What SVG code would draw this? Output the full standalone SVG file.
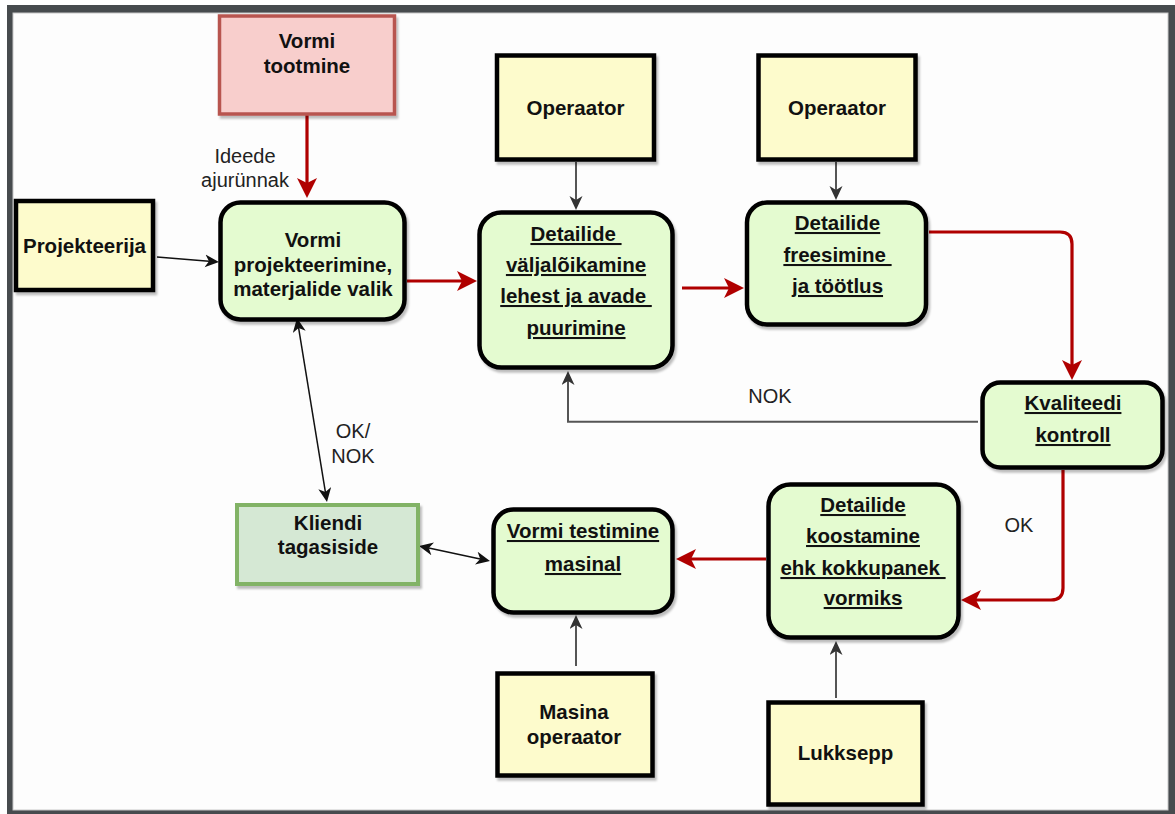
<svg xmlns="http://www.w3.org/2000/svg" width="1175" height="814" viewBox="0 0 1175 814">
<style>
.lbl{font-family:"Liberation Sans",Arial,sans-serif;font-size:20.5px;font-weight:bold;fill:#111;text-anchor:middle}
.u{text-decoration:underline}
.note{font-family:"Liberation Sans",Arial,sans-serif;font-size:20px;fill:#222;text-anchor:middle}
.yel{fill:#fdfbcc;stroke:#000;stroke-width:4.5}
.grn{fill:#e4fbd0;stroke:#000;stroke-width:4.5}
.red{fill:none;stroke:#b00000;stroke-width:3.2}
.blk{fill:none;stroke:#111;stroke-width:1.5}
.gry{fill:none;stroke:#555;stroke-width:2}
</style>
<defs>
<filter id="sh" x="-10%" y="-10%" width="130%" height="130%">
<feDropShadow dx="2" dy="3" stdDeviation="1" flood-color="#000" flood-opacity="0.25"/>
</filter>
<marker id="ar" markerUnits="userSpaceOnUse" markerWidth="22" markerHeight="22" refX="5" refY="10" orient="auto">
<path d="M0,0 L20,10 L0,20 L5,10 Z" fill="#b00000"/>
</marker>
<marker id="ab" markerUnits="userSpaceOnUse" markerWidth="16" markerHeight="16" refX="4" refY="6.5" orient="auto-start-reverse">
<path d="M0,0 L14,6.5 L0,13 L4,6.5 Z" fill="#111"/>
</marker>
<marker id="ag" markerUnits="userSpaceOnUse" markerWidth="16" markerHeight="16" refX="4" refY="6.5" orient="auto">
<path d="M0,0 L14,6.5 L0,13 L4,6.5 Z" fill="#333"/>
</marker>
</defs>

<g id="frame">
<rect x="7" y="5" width="1168" height="809" fill="#474b4e"/>
<rect x="13" y="13" width="1155" height="797" fill="#fdfdfd" stroke="#c8c8c8" stroke-width="1"/>
</g>

<g id="connectors">
<path class="red" d="M307,115 V183" marker-end="url(#ar)"/>
<path class="blk" d="M157,257 L209,261.2" marker-end="url(#ab)"/>
<path class="red" d="M407,281 H462" marker-end="url(#ar)"/>
<path class="red" d="M682,288 H729" marker-end="url(#ar)"/>
<path class="gry" d="M576,162 V200" marker-end="url(#ag)"/>
<path class="gry" d="M836,162 V190" marker-end="url(#ag)"/>
<path class="red" d="M929,232 H1060 Q1072,232 1072,244 V365" marker-end="url(#ar)"/>
<path class="gry" d="M978,421.7 H568 V381" marker-end="url(#ag)"/>
<path class="red" d="M1063,470 V588 Q1063,600 1051,600 H976" marker-end="url(#ar)"/>
<path class="red" d="M766,559 H691" marker-end="url(#ar)"/>
<path class="blk" d="M298.6,327.9 L325.4,492.1" marker-start="url(#ab)" marker-end="url(#ab)"/>
<path class="blk" d="M428.8,548.1 L480.2,558.9" marker-start="url(#ab)" marker-end="url(#ab)"/>
<path class="gry" d="M576,666 V625" marker-end="url(#ag)"/>
<path class="gry" d="M836,698 V651" marker-end="url(#ag)"/>
<text class="note" x="245" y="163">Ideede</text>
<text class="note" x="245" y="187">ajurünnak</text>
<text class="note" x="353" y="438">OK/</text>
<text class="note" x="353" y="463">NOK</text>
<text class="note" x="770" y="403">NOK</text>
<text class="note" x="1019" y="532">OK</text>
</g>

<g id="vormi-tootmine">
<rect x="219.5" y="16" width="175" height="98" fill="#f8cecc" stroke="#b85450" stroke-width="3.5" filter="url(#sh)"/>
<text class="lbl" x="307" y="48">Vormi</text>
<text class="lbl" x="307" y="73">tootmine</text>
</g>

<g id="projekteerija">
<rect class="yel" x="16" y="201" width="137" height="89" filter="url(#sh)"/>
<text class="lbl" x="84.5" y="253">Projekteerija</text>
</g>

<g id="vormi-projekteerimine">
<rect class="grn" x="220.5" y="202.5" width="184" height="117" rx="20" filter="url(#sh)"/>
<text class="lbl" x="313" y="247">Vormi</text>
<text class="lbl" x="313" y="272">projekteerimine,</text>
<text class="lbl" x="313" y="296">materjalide valik</text>
</g>

<g id="operaator-1">
<rect class="yel" x="497" y="55.5" width="157" height="104" filter="url(#sh)"/>
<text class="lbl" x="575.5" y="115">Operaator</text>
</g>

<g id="operaator-2">
<rect class="yel" x="758.5" y="55.5" width="157" height="104" filter="url(#sh)"/>
<text class="lbl" x="837" y="115">Operaator</text>
</g>

<g id="detailide-valjaloikamine">
<rect class="grn" x="479.5" y="212.5" width="193" height="155" rx="22" filter="url(#sh)"/>
<text class="lbl u" x="576" y="241" xml:space="preserve">Detailide </text>
<text class="lbl u" x="576" y="272">väljalõikamine</text>
<text class="lbl u" x="576" y="303" xml:space="preserve">lehest ja avade </text>
<text class="lbl u" x="576" y="335">puurimine</text>
</g>

<g id="detailide-freesimine">
<rect class="grn" x="747" y="202.5" width="179" height="122" rx="20" filter="url(#sh)"/>
<text class="lbl u" x="837.5" y="230">Detailide</text>
<text class="lbl u" x="837.5" y="262" xml:space="preserve">freesimine </text>
<text class="lbl u" x="837.5" y="293">ja töötlus</text>
</g>

<g id="kvaliteedi-kontroll">
<rect class="grn" x="982.5" y="382.5" width="180" height="85" rx="18" filter="url(#sh)"/>
<text class="lbl u" x="1073" y="410">Kvaliteedi</text>
<text class="lbl u" x="1073" y="442">kontroll</text>
</g>

<g id="detailide-koostamine">
<rect class="grn" x="768.5" y="484.5" width="190" height="153" rx="22" filter="url(#sh)"/>
<text class="lbl u" x="863" y="512">Detailide</text>
<text class="lbl u" x="863" y="543">koostamine</text>
<text class="lbl u" x="863" y="575" xml:space="preserve">ehk kokkupanek </text>
<text class="lbl u" x="863" y="605">vormiks</text>
</g>

<g id="vormi-testimine">
<rect class="grn" x="493.5" y="509.5" width="179" height="103" rx="20" filter="url(#sh)"/>
<text class="lbl u" x="583" y="538">Vormi testimine</text>
<text class="lbl u" x="583" y="571">masinal</text>
</g>

<g id="kliendi-tagasiside">
<rect x="237" y="505" width="181" height="79" fill="#d5e8d4" stroke="#82b366" stroke-width="4" filter="url(#sh)"/>
<text class="lbl" x="328" y="530">Kliendi</text>
<text class="lbl" x="328" y="554">tagasiside</text>
</g>

<g id="masina-operaator">
<rect class="yel" x="497.5" y="673.5" width="155" height="102" filter="url(#sh)"/>
<text class="lbl" x="574" y="719">Masina</text>
<text class="lbl" x="574" y="744">operaator</text>
</g>

<g id="lukksepp">
<rect class="yel" x="768.5" y="702.5" width="154" height="102" filter="url(#sh)"/>
<text class="lbl" x="845.5" y="760">Lukksepp</text>
</g>
</svg>
